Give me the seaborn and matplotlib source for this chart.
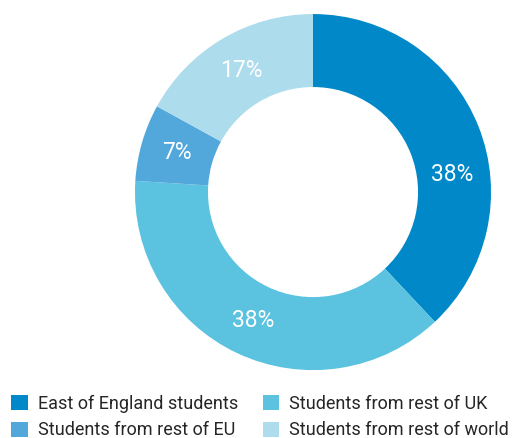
import numpy as np
import matplotlib
matplotlib.use('Agg')
import matplotlib.pyplot as plt
import seaborn as sns
from matplotlib.patches import Patch

# Datos del gráfico
categorias = ['East of England students', 'Students from rest of UK',
              'Students from rest of EU', 'Students from rest of world']
valores = [38, 38, 7, 17]
colores = ['#0088C8', '#5BC2E0', '#52A8DB', '#ADDCEC']

sns.set_theme(style='white')
plt.rcParams['font.family'] = ['Roboto', 'DejaVu Sans']

fig = plt.figure(figsize=(5.16, 4.38), dpi=100)
ax = fig.add_axes([0.2616, 0.155, 0.690, 0.813])

wedges, textos, pct = ax.pie(
    valores, colors=sns.color_palette(colores), startangle=90, counterclock=False,
    autopct='%d%%', pctdistance=0.795, radius=1.0,
    wedgeprops=dict(width=0.41, edgecolor='none'),
    textprops=dict(color='white', fontsize=16.5))

# la primera etiqueta está más abajo en el original
ang = np.deg2rad(7)
pct[0].set_position((0.79 * np.cos(ang), 0.79 * np.sin(ang)))

ax.set_xlim(-1, 1)
ax.set_ylim(-1, 1)
ax.set_aspect('equal')
ax.axis('off')

# Leyenda en dos columnas (orden por columnas)
orden = [0, 2, 1, 3]
handles = [Patch(facecolor=colores[i], edgecolor='none') for i in orden]
fig.legend(handles, [categorias[i] for i in orden], ncol=2,
           loc='upper left', bbox_to_anchor=(0.022, 0.098), frameon=False,
           fontsize=13, handlelength=0.9, handleheight=0.9,
           handletextpad=0.55, columnspacing=1.4, labelspacing=0.45,
           borderpad=0.0, borderaxespad=0)

fig.savefig('out.png', dpi=100)
